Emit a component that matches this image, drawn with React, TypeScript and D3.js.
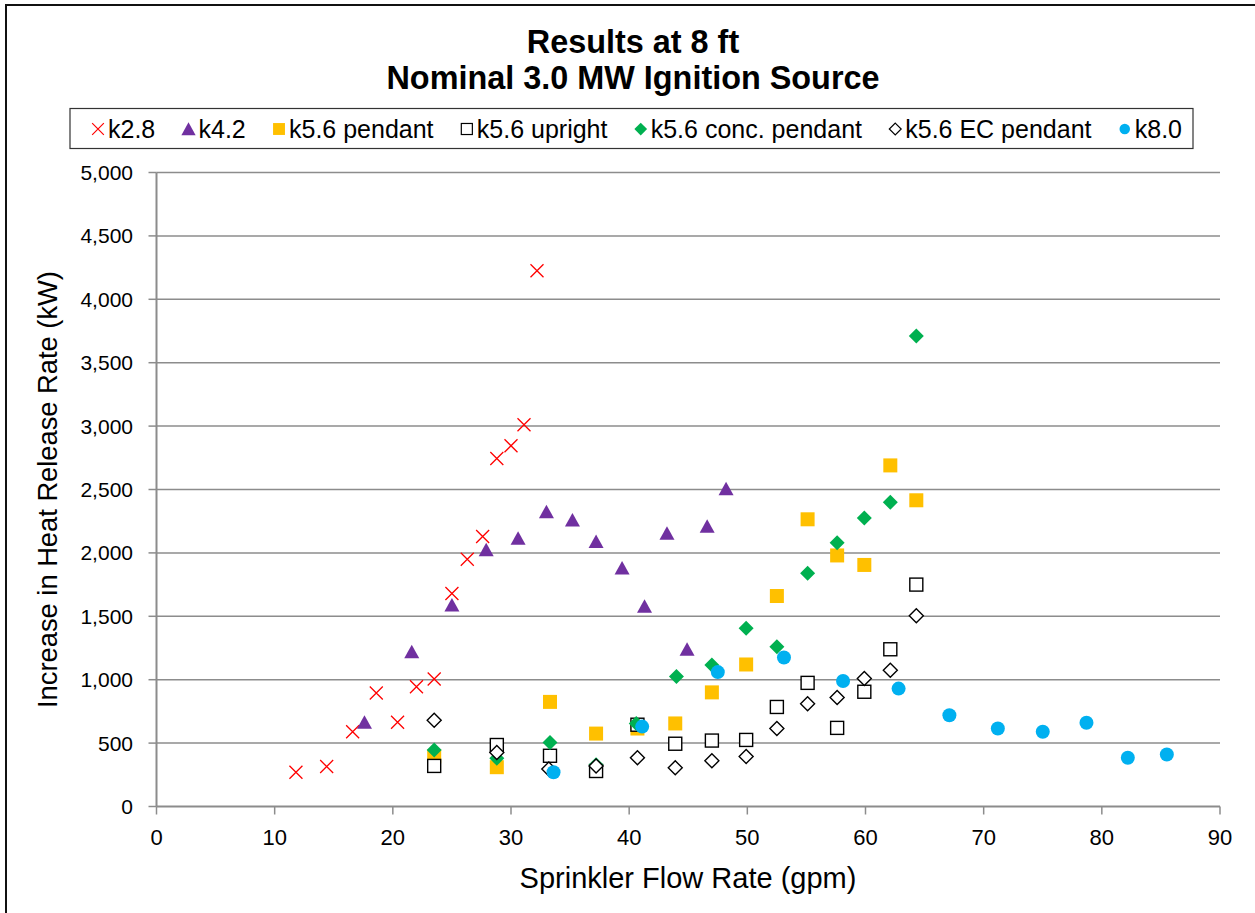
import React from "react";
import * as d3 from "d3";

// flow rate (gpm) / increase in HRR (kW)
const k28X = [11.8, 14.4, 16.6, 18.6, 20.4, 22.0, 23.5, 25.0, 26.3, 27.6, 28.8, 30.0, 31.1, 32.2];
const k28Y = [270, 315, 590, 895, 665, 945, 1005, 1680, 1950, 2130, 2745, 2845, 3010, 4225];

const k42X = [17.6, 21.6, 25.0, 27.9, 30.6, 33.0, 35.2, 37.2, 39.4, 41.3, 43.2, 44.9, 46.6, 48.2];
const k42Y = [665, 1220, 1590, 2025, 2115, 2325, 2260, 2090, 1880, 1580, 2155, 1240, 2210, 2505];

const k56pX = [23.5, 28.8, 33.3, 37.2, 40.7, 43.9, 47.0, 49.9, 52.5, 55.1, 57.6, 59.9, 62.1, 64.3];
const k56pY = [395, 310, 825, 575, 615, 655, 900, 1120, 1660, 2265, 1980, 1905, 2690, 2415];

const k56uX = [23.5, 28.8, 33.3, 37.2, 40.7, 43.9, 47.0, 49.9, 52.5, 55.1, 57.6, 59.9, 62.1, 64.3];
const k56uY = [320, 485, 400, 280, 645, 495, 520, 525, 785, 975, 620, 905, 1240, 1750];

const k56cX = [23.5, 28.8, 33.3, 37.2, 40.6, 44.0, 47.0, 49.9, 52.5, 55.1, 57.6, 59.9, 62.1, 64.3];
const k56cY = [445, 380, 505, 330, 655, 1025, 1115, 1405, 1260, 1840, 2080, 2275, 2400, 3710];

const k56eX = [23.5, 28.8, 33.2, 37.2, 40.7, 43.9, 47.0, 49.9, 52.5, 55.1, 57.6, 59.9, 62.1, 64.3];
const k56eY = [680, 425, 295, 320, 385, 305, 360, 395, 615, 810, 860, 1010, 1075, 1505];

const k80X = [33.6, 41.1, 47.5, 53.1, 58.1, 62.8, 67.1, 71.2, 75.0, 78.7, 82.2, 85.5];
const k80Y = [270, 630, 1060, 1175, 990, 930, 720, 615, 590, 660, 385, 410];

const seriesNames = ["k2.8", "k4.2", "k5.6 pendant", "k5.6 upright", "k5.6 conc. pendant", "k5.6 EC pendant", "k8.0"];
const xTicks = [0, 10, 20, 30, 40, 50, 60, 70, 80, 90];
const yTicks = [0, 500, 1000, 1500, 2000, 2500, 3000, 3500, 4000, 4500, 5000];

const FONT = "'Liberation Sans', Arial, sans-serif";

type Shape = "x" | "tri" | "sq" | "osq" | "dia" | "odia" | "circle";
const seriesX = [k28X, k42X, k56pX, k56uX, k56cX, k56eX, k80X];
const seriesY = [k28Y, k42Y, k56pY, k56uY, k56cY, k56eY, k80Y];
const shapes: Shape[] = ["x", "tri", "sq", "osq", "dia", "odia", "circle"];
const colors = ["#ff0000", "#7030a0", "#ffc000", "#000000", "#00b050", "#000000", "#00b0f0"];

const Marker = ({ shape, color, cx, cy }: { shape: Shape; color: string; cx: number; cy: number }) => {
  const t = `translate(${cx},${cy})`;
  switch (shape) {
    case "x":
      return <path transform={t} d="M-6.5,-6.5L6.5,6.5M-6.5,6.5L6.5,-6.5" stroke={color} strokeWidth={1.3} fill="none" />;
    case "tri":
      return <path transform={t} d="M0,-7L7.5,6.5L-7.5,6.5Z" fill={color} />;
    case "sq":
      return <rect transform={t} x={-7} y={-7} width={14} height={14} fill={color} />;
    case "osq":
      return <rect transform={t} x={-6.5} y={-6.5} width={13} height={13} fill="#fff" stroke={color} strokeWidth={1.4} />;
    case "dia":
      return <path transform={t} d="M0,-7.5L7.5,0L0,7.5L-7.5,0Z" fill={color} />;
    case "odia":
      return <path transform={t} d="M0,-7L7,0L0,7L-7,0Z" fill="#fff" stroke={color} strokeWidth={1.4} />;
    default:
      return <circle cx={cx} cy={cy} r={7} fill={color} />;
  }
};

const legendSize: Record<Shape, number> = { x: 0.9, tri: 0.95, sq: 0.85, osq: 0.85, dia: 0.85, odia: 0.85, circle: 0.75 };

const App = () => {
  const W = 1255;
  const H = 913;
  const left = 156.5;
  const right = 1220;
  const top = 172.5;
  const bottom = 806.5;

  const x = d3.scaleLinear().domain([0, 90]).range([left, right]);
  const y = d3.scaleLinear().domain([0, 5000]).range([bottom, top]);
  const fmt = d3.format(",");

  // legend layout from measured text widths, spread across the box
  const ctx = document.createElement("canvas").getContext("2d");
  const legFont = 25;
  if (ctx) ctx.font = `${legFont}px ${FONT}`;
  const widths = seriesNames.map((s) => (ctx ? ctx.measureText(s).width : s.length * 12));
  const legLeft = 70;
  const legRight = 1193;
  const mw = 17;
  const startX = 90;
  const endX = 1181;
  const gap = (endX - startX - d3.sum(widths) - seriesNames.length * mw) / (seriesNames.length - 1);
  let cursor = startX;
  const legItems = seriesNames.map((s, i) => {
    const mx = cursor + 8;
    const tx = cursor + mw + 1;
    cursor += mw + widths[i] + gap;
    return { s, mx, tx, i };
  });

  return (
    <svg width={W} height={H} style={{ position: "absolute", left: 0, top: 0, background: "#fff" }}>
      <rect x={6} y={5} width={W + 20} height={H + 20} fill="#fff" stroke="#111" strokeWidth={2} />

      <text x={633} y={53} textAnchor="middle" fontFamily={FONT} fontWeight="bold" fontSize={32.4}>
        Results at 8 ft
      </text>
      <text x={633} y={89} textAnchor="middle" fontFamily={FONT} fontWeight="bold" fontSize={32.4}>
        Nominal 3.0 MW Ignition Source
      </text>

      <rect x={legLeft} y={108.5} width={legRight - legLeft} height={40} fill="#fff" stroke="#333" strokeWidth={1.2} />
      {legItems.map(({ s, mx, tx, i }) => (
        <g key={s}>
          <g transform={`translate(${mx},129) scale(${legendSize[shapes[i]]}) translate(${-mx},-129)`}>
            <Marker shape={shapes[i]} color={colors[i]} cx={mx} cy={129} />
          </g>
          <text x={tx} y={137.5} fontFamily={FONT} fontSize={legFont}>
            {s}
          </text>
        </g>
      ))}

      <g>
        {yTicks.map((t) => (
          <g key={t}>
            {t > 0 && <line x1={left} x2={right} y1={y(t)} y2={y(t)} stroke="#8c8c8c" strokeWidth={1.5} />}
            <line x1={left - 8} x2={left} y1={y(t)} y2={y(t)} stroke="#8c8c8c" strokeWidth={1.5} />
            <text x={133} y={y(t) + 7.5} textAnchor="end" fontFamily={FONT} fontSize={21}>
              {fmt(t)}
            </text>
          </g>
        ))}
        {xTicks.map((t) => (
          <g key={t}>
            <line x1={x(t)} x2={x(t)} y1={bottom} y2={bottom + 8} stroke="#8c8c8c" strokeWidth={1.5} />
            <text x={x(t)} y={845} textAnchor="middle" fontFamily={FONT} fontSize={22}>
              {t}
            </text>
          </g>
        ))}
        <line x1={left} x2={left} y1={top} y2={bottom} stroke="#8c8c8c" strokeWidth={2} />
        <line x1={left} x2={right} y1={bottom} y2={bottom} stroke="#8c8c8c" strokeWidth={2} />
      </g>

      {seriesX.map((xs, si) => (
        <g key={seriesNames[si]}>
          {xs.map((v, j) => (
            <Marker key={j} shape={shapes[si]} color={colors[si]} cx={x(v)} cy={y(seriesY[si][j])} />
          ))}
        </g>
      ))}

      <text x={688} y={888} textAnchor="middle" fontFamily={FONT} fontSize={29}>
        Sprinkler Flow Rate (gpm)
      </text>
      <text
        transform={`translate(57,${(top + bottom) / 2}) rotate(-90)`}
        textAnchor="middle"
        fontFamily={FONT}
        fontSize={27.3}
      >
        Increase in Heat Release Rate (kW)
      </text>
    </svg>
  );
};

export default App;
